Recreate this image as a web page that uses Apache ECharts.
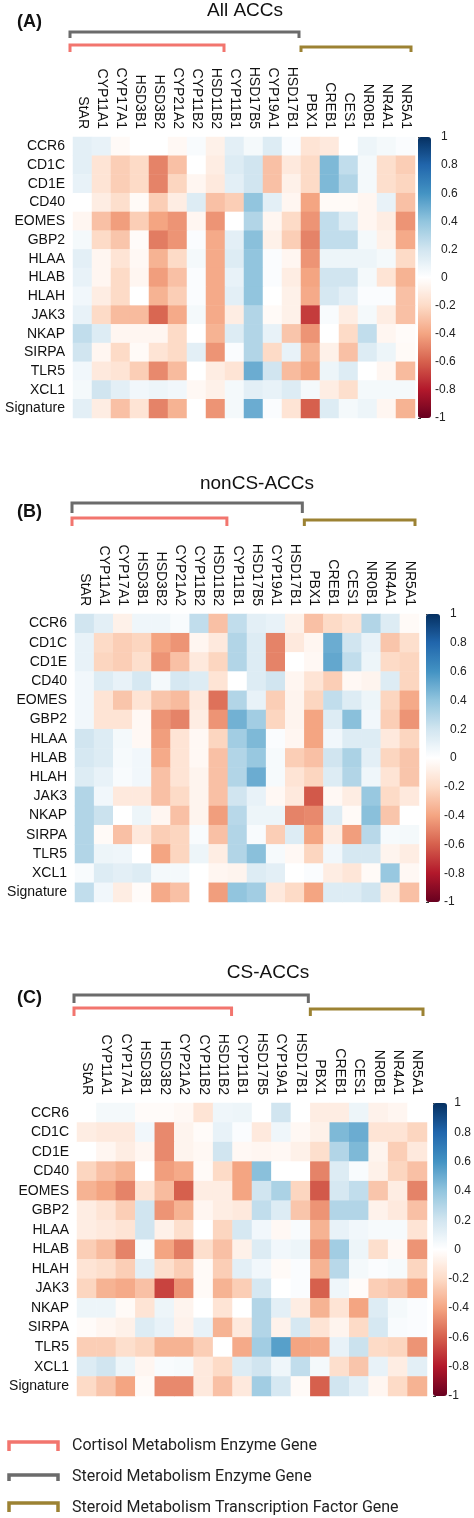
<!DOCTYPE html>
<html><head><meta charset="utf-8">
<script src="https://cdn.jsdelivr.net/npm/echarts@6/dist/echarts.min.js"></script>
<style>html,body{margin:0;padding:0;background:#fff}#c{width:474px;height:1518px}</style>
</head><body><div id="c"></div>
<script>
// ---------- data ----------
const genes = ['StAR','CYP11A1','CYP17A1','HSD3B1','HSD3B2','CYP21A2','CYP11B2','HSD11B2','CYP11B1','HSD17B5','CYP19A1','HSD17B1','PBX1','CREB1','CES1','NR0B1','NR4A1','NR5A1'];
const markers = ['CCR6','CD1C','CD1E','CD40','EOMES','GBP2','HLAA','HLAB','HLAH','JAK3','NKAP','SIRPA','TLR5','XCL1','Signature'];

const allACCs = [
 [0.12, 0.10,-0.03, 0.00, 0.00,-0.04, 0.03,-0.08, 0.12, 0.05, 0.15, 0.02,-0.15,-0.12, 0.00, 0.08, 0.05, 0.02],
 [0.12,-0.15,-0.25,-0.20,-0.50,-0.30, 0.00,-0.10, 0.15, 0.20,-0.30,-0.12,-0.20, 0.45, 0.25, 0.05,-0.18,-0.25],
 [0.10,-0.15,-0.25,-0.20,-0.50,-0.22,-0.05,-0.12, 0.12, 0.20,-0.30,-0.08,-0.20, 0.45, 0.30, 0.05,-0.18,-0.22],
 [0.00,-0.10,-0.18,-0.03,-0.25,-0.10, 0.15,-0.30,-0.25, 0.40, 0.12,-0.05,-0.40,-0.03,-0.03,-0.05, 0.10,-0.30],
 [-0.05,-0.30,-0.42,-0.25,-0.40,-0.45,-0.05,-0.45, 0.00, 0.30,-0.05,-0.20,-0.45, 0.25, 0.15,-0.05,-0.10,-0.45],
 [0.05,-0.20,-0.28,-0.02,-0.52,-0.45, 0.02,-0.38, 0.12, 0.42,-0.08,-0.25,-0.50, 0.25, 0.25, 0.05,-0.08,-0.38],
 [0.12,-0.05,-0.15,-0.04,-0.35,-0.20, 0.05,-0.38, 0.15, 0.40, 0.02,-0.05,-0.45, 0.08, 0.08, 0.08, 0.05,-0.20],
 [0.10,-0.05,-0.20,-0.05,-0.42,-0.30, 0.02,-0.38, 0.10, 0.40, 0.02,-0.10,-0.40, 0.20, 0.20, 0.05,-0.15,-0.35],
 [0.06,-0.10,-0.20, 0.00,-0.35,-0.25, 0.02,-0.38, 0.12, 0.40, 0.00,-0.08,-0.38, 0.18, 0.12, 0.02, 0.02,-0.30],
 [0.10,-0.20,-0.32,-0.32,-0.58,-0.38, 0.05,-0.38,-0.10, 0.30,-0.03,-0.08,-0.70, 0.03,-0.10, 0.05,-0.10,-0.30],
 [0.25, 0.15,-0.05,-0.05,-0.05,-0.20, 0.00,-0.35, 0.15, 0.30, 0.10,-0.28,-0.45, 0.00,-0.20, 0.25,-0.05,-0.02],
 [0.20,-0.05,-0.20,-0.03,-0.15,-0.20, 0.12,-0.45, 0.02, 0.30,-0.20, 0.10,-0.35,-0.08,-0.30, 0.15, 0.08,-0.03],
 [0.06,-0.12,-0.15,-0.25,-0.48,-0.32, 0.00,-0.10,-0.15, 0.50, 0.20,-0.32,-0.40, 0.08, 0.15, 0.00,-0.05,-0.32],
 [0.05, 0.20, 0.12, 0.06, 0.08, 0.06,-0.04,-0.08, 0.05, 0.12, 0.10, 0.15, 0.05,-0.10,-0.18, 0.05, 0.05, 0.05],
 [0.12,-0.10,-0.30,-0.15,-0.50,-0.35, 0.00,-0.45, 0.05, 0.50, 0.02,-0.15,-0.60, 0.15, 0.05, 0.08,-0.05,-0.35]
];

const nonCSACCs = [
 [0.20, 0.12,-0.08, 0.07, 0.07, 0.03, 0.25,-0.30, 0.25, 0.12, 0.10,-0.08,-0.30,-0.20,-0.15, 0.30, 0.15,-0.03],
 [0.10,-0.20,-0.25,-0.22,-0.40,-0.45,-0.05,-0.12, 0.30, 0.15,-0.50,-0.12,-0.05, 0.50, 0.20, 0.10,-0.28,-0.18],
 [0.10,-0.22,-0.25,-0.18,-0.45,-0.30,-0.12,-0.22, 0.30, 0.15,-0.50, 0.00,-0.04, 0.52, 0.25, 0.08,-0.20,-0.22],
 [0.06, 0.15, 0.10, 0.18, 0.05, 0.18, 0.15,-0.15, 0.00, 0.15, 0.20,-0.05,-0.15,-0.25,-0.04,-0.06, 0.15,-0.22],
 [0.06,-0.15,-0.28,-0.15,-0.28,-0.32,-0.12,-0.55, 0.30, 0.10,-0.25,-0.06,-0.22, 0.25, 0.15, 0.08,-0.22,-0.38],
 [0.06,-0.15,-0.15,-0.04,-0.45,-0.50,-0.10,-0.45, 0.48, 0.35,-0.22,-0.06,-0.40, 0.15, 0.42, 0.06,-0.25,-0.45],
 [0.20, 0.15, 0.05,-0.04,-0.42,-0.15,-0.04,-0.22, 0.35, 0.45, 0.02,-0.05,-0.40, 0.06, 0.15, 0.15,-0.12,-0.22],
 [0.18, 0.15, 0.04, 0.06,-0.38,-0.15,-0.04,-0.30, 0.30, 0.38, 0.04,-0.25,-0.30, 0.20, 0.32, 0.12,-0.22,-0.28],
 [0.15, 0.10, 0.03, 0.06,-0.30,-0.15,-0.06,-0.30, 0.30, 0.50, 0.04,-0.15,-0.22, 0.15, 0.30, 0.07,-0.15,-0.28],
 [0.30, 0.06,-0.12,-0.12,-0.30,-0.20,-0.06,-0.30, 0.20, 0.10,-0.04,-0.12,-0.62,-0.04,-0.10, 0.38,-0.20,-0.12],
 [0.30, 0.22, 0.00, 0.08,-0.05,-0.30,-0.06,-0.42, 0.28, 0.08, 0.08,-0.50,-0.48, 0.15,-0.03, 0.42,-0.28, 0.00],
 [0.30,-0.03,-0.30,-0.12,-0.25,-0.22, 0.03,-0.30, 0.30, 0.03,-0.25, 0.15,-0.40,-0.10,-0.42, 0.28, 0.04, 0.05],
 [0.30, 0.08, 0.07, 0.00,-0.40,-0.22, 0.08,-0.10, 0.30, 0.42, 0.04,-0.04,-0.22, 0.06, 0.18, 0.18,-0.06,-0.10],
 [0.03, 0.15, 0.12, 0.15, 0.05, 0.05, 0.00,-0.05,-0.06, 0.15, 0.12, 0.00, 0.02,-0.10,-0.14,-0.03, 0.38,-0.04],
 [0.25, 0.06,-0.10,-0.02,-0.38,-0.30, 0.00,-0.42, 0.40, 0.35,-0.12,-0.20,-0.40, 0.15, 0.15, 0.20,-0.10,-0.30]
];

const csACCs = [
 [0.00, 0.05, 0.05,-0.02,-0.02,-0.04,-0.15, 0.07, 0.08, 0.00, 0.20, 0.00,-0.10,-0.10, 0.08,-0.07,-0.05, 0.00],
 [-0.10,-0.12,-0.12, 0.06,-0.48,-0.06,-0.02, 0.10, 0.02,-0.12, 0.07,-0.04,-0.08, 0.45, 0.50,-0.15,-0.15,-0.22],
 [0.00,-0.05,-0.10,-0.05,-0.48,-0.06,-0.04, 0.20,-0.04,-0.05,-0.04,-0.08,-0.18, 0.30, 0.45,-0.06,-0.25,-0.12],
 [-0.22,-0.30,-0.35, 0.00,-0.42,-0.38,-0.03,-0.20,-0.40, 0.42, 0.00, 0.00,-0.50, 0.15, 0.03,-0.08,-0.22,-0.30],
 [-0.35,-0.40,-0.50,-0.15,-0.32,-0.60,-0.10,-0.10,-0.40, 0.20, 0.32,-0.22,-0.62, 0.18, 0.25,-0.28,-0.10,-0.50],
 [-0.10,-0.15,-0.25, 0.20,-0.45,-0.35,-0.05,-0.10,-0.12, 0.25, 0.15,-0.28,-0.45, 0.30, 0.30,-0.07,-0.12,-0.30],
 [-0.10,-0.12,-0.15, 0.20,-0.08,-0.18, 0.00,-0.22, 0.18, 0.06,-0.04, 0.03,-0.35, 0.10, 0.06, 0.04, 0.04,-0.15],
 [-0.25,-0.32,-0.50, 0.03,-0.40,-0.52,-0.18,-0.30,-0.08, 0.15, 0.06, 0.08,-0.45, 0.35, 0.08,-0.18,-0.04,-0.45],
 [-0.15,-0.18,-0.25, 0.12,-0.18,-0.25,-0.03,-0.25, 0.12, 0.06,-0.03, 0.02,-0.35, 0.28, 0.05, 0.02, 0.04,-0.22],
 [-0.22,-0.35,-0.38,-0.30,-0.68,-0.45,-0.03,-0.35,-0.25, 0.18, 0.00, 0.02,-0.60, 0.07,-0.02,-0.25,-0.28,-0.40],
 [0.08, 0.08,-0.03,-0.15, 0.08,-0.06, 0.00,-0.15, 0.00, 0.30, 0.12,-0.10,-0.35,-0.15,-0.40, 0.15, 0.05, 0.02],
 [-0.02,-0.05,-0.08, 0.15, 0.10,-0.07, 0.10,-0.35,-0.12, 0.30,-0.07, 0.18,-0.15,-0.06,-0.20, 0.18, 0.03, 0.02],
 [-0.25,-0.25,-0.18,-0.22,-0.35,-0.35,-0.25, 0.00,-0.38, 0.35, 0.55,-0.40,-0.38, 0.10, 0.22,-0.20,-0.22,-0.45],
 [0.15, 0.20, 0.08,-0.05, 0.03, 0.04,-0.12,-0.20, 0.15, 0.20, 0.07, 0.25, 0.05,-0.18,-0.28, 0.10,-0.10, 0.12],
 [-0.20,-0.28,-0.40,-0.03,-0.48,-0.48,-0.12,-0.30,-0.12, 0.35, 0.18,-0.03,-0.60, 0.20, 0.12,-0.05,-0.20,-0.35]
];

const colorbarRange = [-1, 1];
const colorbarStep = 0.2;
const legendItems = ['Cortisol Metabolism Enzyme Gene','Steroid Metabolism Enzyme Gene','Steroid Metabolism Transcription Factor Gene'];

// ---------- styling / layout ----------
const RdBu = ['#67001f','#b2182b','#d6604d','#f4a582','#fddbc7','#ffffff','#d1e5f0','#92c5de','#4393c3','#2166ac','#053061'];
const C_RED = '#f2756e', C_GREY = '#6b6b6b', C_GOLD = '#9c8233';
const FONT = '"Liberation Sans", Arial, Helvetica, sans-serif';

const panels = [
  {title:'All ACCs', tag:'(A)', values: allACCs,
   grid:{left:73, top:137, width:342, height:281}, bar:{left:418, width:13},
   titleY:11, titleX:245, tagY:22, br:{grey:[32,38], red:[45,52], gold:[47,52]}},
  {title:'nonCS-ACCs', tag:'(B)', values: nonCSACCs,
   grid:{left:75, top:614, width:344, height:288}, bar:{left:426, width:14},
   titleY:484, titleX:257, tagY:512, br:{grey:[503,513], red:[518,526], gold:[520,526]}},
  {title:'CS-ACCs', tag:'(C)', values: csACCs,
   grid:{left:77, top:1103, width:350, height:293}, bar:{left:433, width:14},
   titleY:973, titleX:268, tagY:998, br:{grey:[995,1003], red:[1008,1016], gold:[1009,1016]}}
];

const grids = [], xAxes = [], yAxes = [], series = [], visualMaps = [], graphics = [];

function bracket(x0, x1, yTop, yBot, color, lw) {
  return {type:'polyline', silent:true, z:10,
    shape:{points:[[x0,yBot],[x0,yTop],[x1,yTop],[x1,yBot]]},
    style:{stroke:color, lineWidth:lw, fill:null, lineJoin:'miter'}};
}

panels.forEach((p, i) => {
  grids.push(Object.assign({}, p.grid));
  xAxes.push({type:'category', gridIndex:i, position:'top', data:genes,
    axisLine:{show:false}, axisTick:{show:false}, splitLine:{show:false},
    axisLabel:{rotate:90, fontSize:14, margin:8, color:'#111', fontFamily:FONT, interval:0}});
  yAxes.push({type:'category', gridIndex:i, data:markers, inverse:true,
    axisLine:{show:false}, axisTick:{show:false}, splitLine:{show:false},
    axisLabel:{fontSize:14, margin:8, color:'#111', fontFamily:FONT, interval:0}});
  const data = [];
  p.values.forEach((row, r) => row.forEach((v, c) => data.push([c, r, v])));
  series.push({type:'heatmap', xAxisIndex:i, yAxisIndex:i, data:data,
    itemStyle:{borderWidth:0}, emphasis:{disabled:true}, progressive:0});
  visualMaps.push({type:'continuous', seriesIndex:i, min:colorbarRange[0], max:colorbarRange[1],
    calculable:false, realtime:false, hoverLink:false, orient:'vertical', padding:0,
    left:p.bar.left, top:p.grid.top, itemWidth:p.bar.width, itemHeight:p.grid.height,
    inRange:{color:RdBu}, text:null});

  // titles
  graphics.push({type:'text', x:p.titleX, y:p.titleY, silent:true,
    style:{text:p.title, fontSize:19, fontFamily:FONT, fill:'#111', textAlign:'center', textVerticalAlign:'middle'}});
  graphics.push({type:'text', x:17, y:p.tagY, silent:true,
    style:{text:p.tag, fontSize:18, fontWeight:'bold', fontFamily:FONT, fill:'#111', textAlign:'left', textVerticalAlign:'middle'}});

  // brackets derived from grid geometry
  const cw = p.grid.width / genes.length;
  const L = p.grid.left, R = p.grid.left + p.grid.width;
  const c8 = L + 8*cw, c12 = L + 12*cw;
  graphics.push(bracket(L-3, c12-2, p.br.grey[0], p.br.grey[1], C_GREY, 3));
  graphics.push(bracket(L-3, c8-1, p.br.red[0], p.br.red[1], C_RED, 3));
  graphics.push(bracket(c12, R-4, p.br.gold[0], p.br.gold[1], C_GOLD, 3));
});

// colorbar axes
panels.forEach((p, i) => {
  const gi = panels.length + i;
  grids.push({left:p.bar.left, top:p.grid.top, width:p.bar.width, height:p.grid.height});
  xAxes.push({type:'value', gridIndex:gi, show:false, min:0, max:1});
  yAxes.push({type:'value', gridIndex:gi, position:'right', min:colorbarRange[0], max:colorbarRange[1], interval:colorbarStep,
    axisLine:{show:false}, splitLine:{show:false},
    axisTick:{show:true, length:3, lineStyle:{color:'#333', width:1}},
    axisLabel:{fontSize:12, margin:4, color:'#222', fontFamily:FONT, align:'left',
      formatter: v => { const s = String(Math.round(v*10)/10); return v >= 0 ? '\u2002' + s : s; }}});
});

// legend
const legendColors = [C_RED, C_GREY, C_GOLD];
const legendTops = [1442, 1475, 1503];
const legendBots = [1451, 1481, 1512];
const legendTextY = [1446, 1477, 1508];
legendItems.forEach((t, k) => {
  graphics.push(bracket(9, 58, legendTops[k], legendBots[k], legendColors[k], 3.5));
  graphics.push({type:'text', x:72, y:legendTextY[k], silent:true,
    style:{text:t, fontSize:16, fontFamily:'Roboto, "Liberation Sans", Arial, sans-serif', fill:'#222', textAlign:'left', textVerticalAlign:'middle'}});
});

const chart = echarts.init(document.getElementById('c'), null, {renderer:'canvas'});
chart.setOption({
  animation:false,
  backgroundColor:'#ffffff',
  grid:grids, xAxis:xAxes, yAxis:yAxes, series:series,
  visualMap:visualMaps, graphic:graphics
});
</script></body></html>
